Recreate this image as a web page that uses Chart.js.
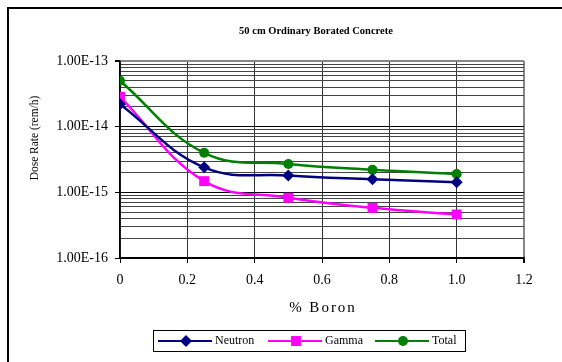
<!DOCTYPE html>
<html lang="en">
<head>
<meta charset="UTF-8">
<title>50 cm Ordinary Borated Concrete</title>
<script src="https://cdn.jsdelivr.net/npm/chart.js@4.4.1/dist/chart.umd.min.js"></script>
<style>
  body { margin: 0; background: #fff; }
  #wrap { position: relative; width: 562px; height: 362px; }
</style>
</head>
<body>
<div id="wrap"><canvas id="doseChart" width="562" height="362"></canvas></div>
<script>
// values
const boron   = [0, 0.25, 0.5, 0.75, 1];
const neutron = [2.2e-14, 2.4e-15, 1.8e-15, 1.58e-15, 1.42e-15];
const gamma   = [2.85e-14, 1.48e-15, 8.3e-16, 5.8e-16, 4.6e-16];
const total   = [5.0e-14, 4.0e-15, 2.7e-15, 2.2e-15, 1.9e-15];
const decades = [-16, -15, -14];   // y axis runs 1E-16 .. 1E-13
const xTicks  = [0, 0.2, 0.4, 0.6, 0.8, 1, 1.2];

const serif = "'Liberation Serif', 'Times New Roman', serif";

const pts = arr => boron.map((b, i) => ({ x: b, y: arr[i] }));

const isDecade = v => Math.abs(Math.log10(v) - Math.round(Math.log10(v))) < 1e-6;

const series = [
  { label: 'Neutron', data: pts(neutron), color: '#000080', style: 'rectRot', r: 6 },
  { label: 'Gamma',   data: pts(gamma),   color: '#ff00ff', style: 'rect',    r: 7 },
  { label: 'Total',   data: pts(total),   color: '#008000', style: 'circle',  r: 5 }
];

// frame, titles and the boxed legend
const extras = {
  id: 'extras',
  afterDraw(chart) {
    const ctx = chart.ctx;
    ctx.save();
    ctx.fillStyle = '#000';
    ctx.fillRect(7, 7, 555, 2);
    ctx.fillRect(7, 7, 2, 355);

    ctx.textAlign = 'center';
    ctx.textBaseline = 'middle';
    ctx.font = 'bold 10.5px ' + serif;
    ctx.fillText('50 cm Ordinary Borated Concrete', 316, 31);

    ctx.font = '15px ' + serif;
    ctx.letterSpacing = '2px';
    ctx.fillText('% Boron', 323, 308);
    ctx.letterSpacing = '0px';

    // y title, squeezed a little like the original
    ctx.translate(35, 138);
    ctx.rotate(-Math.PI / 2);
    ctx.font = '13px ' + serif;
    ctx.scale(0.88, 1);
    ctx.fillText('Dose Rate (rem/h)', 0, 0);
    ctx.restore();

    // legend
    ctx.save();
    ctx.strokeStyle = '#000';
    ctx.lineWidth = 1;
    ctx.strokeRect(153.5, 330.5, 312, 21);
    const starts = [158, 268, 375];
    const cy = 341;
    ctx.font = '12px ' + serif;
    ctx.textBaseline = 'middle';
    series.forEach((s, i) => {
      const x0 = starts[i];
      ctx.strokeStyle = s.color;
      ctx.lineWidth = 2;
      ctx.beginPath();
      ctx.moveTo(x0, cy);
      ctx.lineTo(x0 + 54, cy);
      ctx.stroke();
      ctx.fillStyle = s.color;
      Chart.helpers.drawPoint(ctx, { pointStyle: s.style, radius: s.r, borderWidth: 0 }, x0 + 28, cy);
      ctx.fillStyle = '#000';
      ctx.fillText(s.label, x0 + 57, cy);
    });
    ctx.restore();
  }
};

new Chart(document.getElementById('doseChart'), {
  type: 'line',
  data: {
    datasets: series.map(s => ({
      label: s.label,
      data: s.data,
      borderColor: s.color,
      backgroundColor: s.color,
      borderWidth: 2.5,
      pointStyle: s.style,
      pointRadius: s.r,
      pointBorderWidth: 0,
      tension: 0.4
    }))
  },
  options: {
    responsive: false,
    animation: false,
    layout: { padding: { top: 61, right: 38, bottom: 0, left: 0 } },
    plugins: {
      legend: { display: false },
      tooltip: { enabled: false },
      title: { display: false }
    },
    scales: {
      x: {
        type: 'linear',
        min: 0,
        max: 1.2,
        afterFit: s => { s.height = 104; },
        afterBuildTicks: s => { s.ticks = xTicks.map(v => ({ value: v })); },
        ticks: {
          color: '#000',
          font: { family: serif, size: 14 },
          padding: 9,
          maxRotation: 0,
          autoSkip: false
        },
        grid: {
          color: c => (c.tick && c.tick.value === 1.2) ? '#888' : '#333',
          lineWidth: c => (c.tick && c.tick.value === 1.2) ? 2 : 1,
          tickColor: '#000',
          tickLength: 5
        },
        border: { color: '#000', width: 1.5 }
      },
      y: {
        type: 'logarithmic',
        min: 1e-16,
        max: 1e-13,
        afterFit: s => { s.width = 120; },
        afterBuildTicks: s => {
          const t = [];
          decades.forEach(d => {
            for (let k = 1; k <= 9; k++) t.push({ value: Number(k + 'e' + d), major: k === 1 });
          });
          t.push({ value: 1e-13, major: true });
          s.ticks = t;
        },
        ticks: {
          color: '#000',
          font: { family: serif, size: 14 },
          padding: 7,
          autoSkip: false,
          callback: v => isDecade(v) ? v.toExponential(2).toUpperCase() : ''
        },
        grid: {
          color: c => (c.tick && c.tick.value === 1e-13) ? '#888' : (c.tick && isDecade(c.tick.value) ? '#000' : '#444'),
          lineWidth: c => (c.tick && c.tick.value === 1e-13) ? 2 : 1,
          tickColor: c => (c.tick && isDecade(c.tick.value)) ? '#000' : 'rgba(0,0,0,0)',
          tickLength: 5
        },
        border: { color: '#000', width: 1.5 }
      }
    }
  },
  plugins: [extras]
});
</script>
</body>
</html>
